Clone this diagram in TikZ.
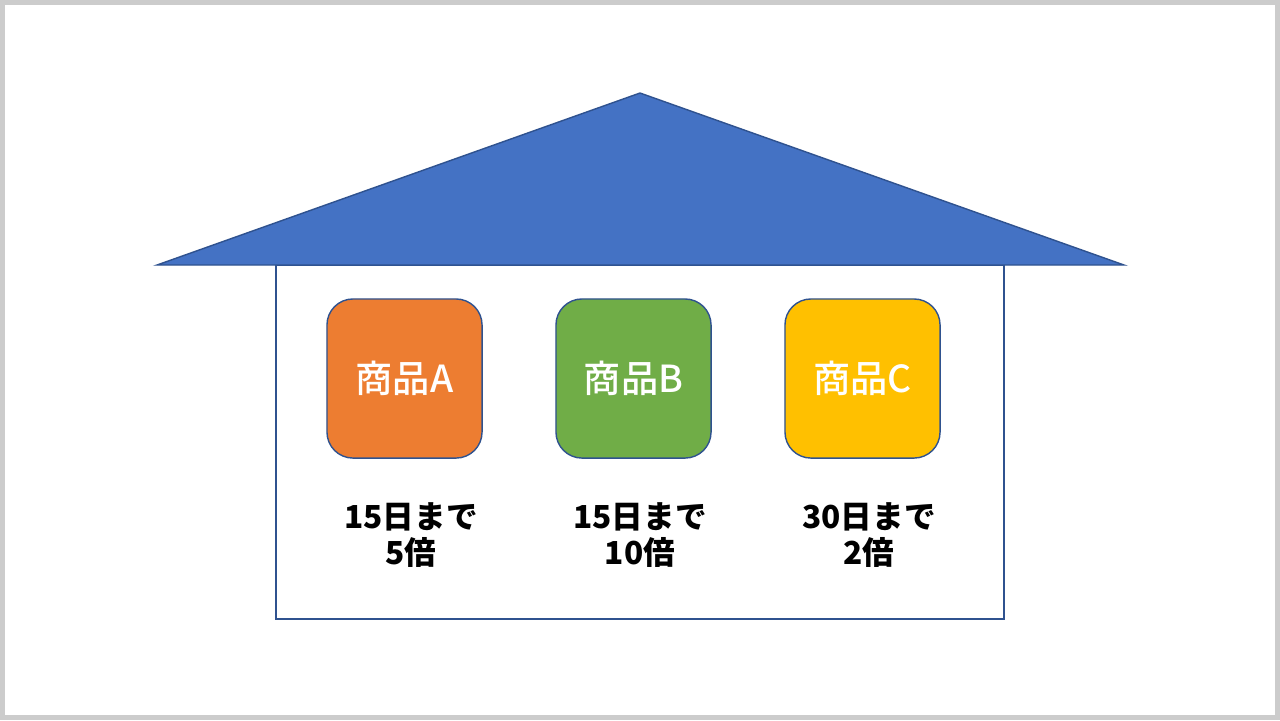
\documentclass[tikz,border=0pt]{standalone}
\usepackage{fontspec}
\newfontfamily\jp{Noto Sans CJK JP}
\newfontfamily\jpm{Noto Sans CJK JP Medium}
\definecolor{roofblue}{HTML}{4472C4}
\definecolor{edgeblue}{HTML}{2F528F}
\definecolor{itemorange}{HTML}{ED7D31}
\definecolor{itemgreen}{HTML}{70AD47}
\definecolor{itemgold}{HTML}{FFC000}
\tikzset{
  item/.style={draw=edgeblue, line width=0.4pt, rounded corners=0.26cm,
    minimum width=1.55cm, minimum height=1.59cm, inner sep=0pt,
    text=white, font=\jpm\fontsize{10.6pt}{12pt}\selectfont},
  note/.style={align=center, inner sep=0pt,
    font=\jp\bfseries\fontsize{9pt}{10.5pt}\selectfont}
}

\begin{document}
\begin{tikzpicture}[x=0.01cm,y=-0.01cm]

              % Frame
              \fill[black!20] (0,0) rectangle (1280,720);
              \fill[white] (4.7,4.7) rectangle (1275,715);
              \useasboundingbox (0,0) rectangle (1280,720);

              % House body
              \draw[edgeblue, line width=0.4pt] (276,265) rectangle (1004,619);

              % Roof
              \draw[fill=roofblue, draw=edgeblue, line width=0.4pt]
                (157,265) -- (640,93) -- (1124,265) -- cycle;

              % Items
              \node[item, fill=itemorange] (itemA) at (404.5,378.5) {商品A};
              \node[item, fill=itemgreen] (itemB) at (633.5,378.5) {商品B};
              \node[item, fill=itemgold] (itemC) at (862.5,378.5) {商品C};

              % Notes
              \node[note] (noteA) at (411,535) {15日まで\\5倍};
              \node[note] (noteB) at (640,535) {15日まで\\10倍};
              \node[note] (noteC) at (869,535) {30日まで\\2倍};

        \end{tikzpicture}
\end{document}
